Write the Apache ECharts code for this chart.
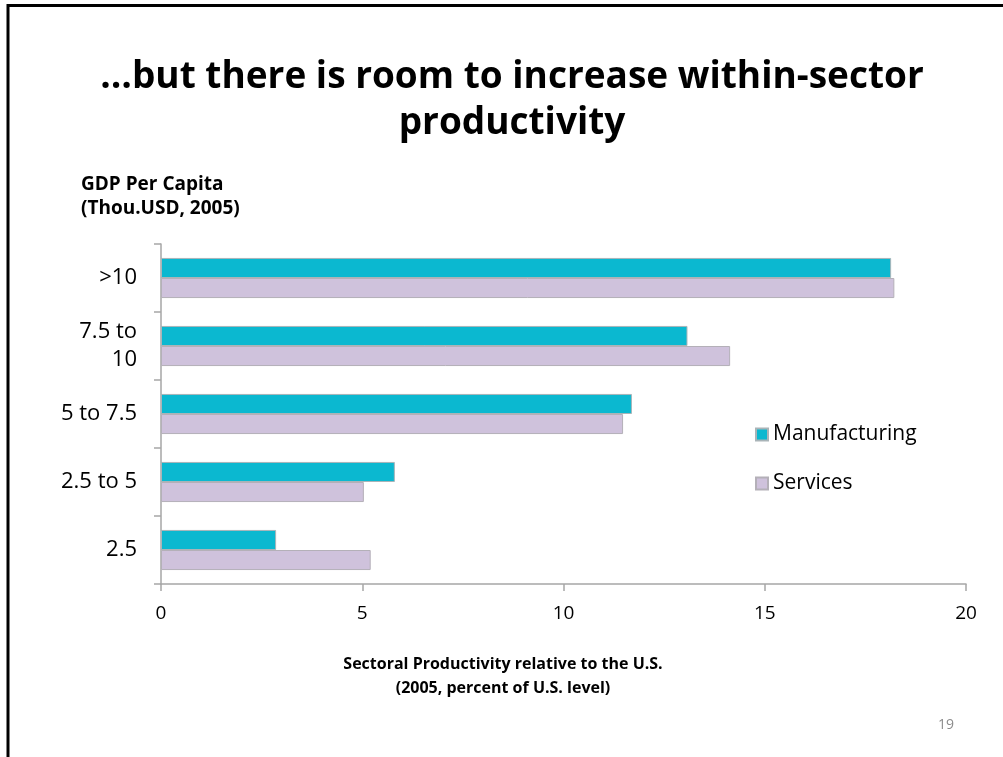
<!DOCTYPE html>
<html>
<head>
<meta charset="utf-8">
<script src="https://cdn.jsdelivr.net/npm/echarts@6/dist/echarts.min.js"></script>
<style>
  html, body { margin: 0; padding: 0; background: #fff; }
  #chart { width: 1003px; height: 757px; }
</style>
</head>
<body>
<div id="chart"></div>
<script>
// GDP per capita brackets, bottom to top
const categories = ['2.5', '2.5 to 5', '5 to 7.5', '7.5 to\n10', '>10'];
// Sectoral productivity relative to the U.S. (percent of U.S. level)
const manufacturing = [2.86, 5.81, 11.70, 13.08, 18.14];
const services = [5.21, 5.04, 11.48, 14.14, 18.22];
const xTicks = [0, 5, 10, 15, 20];

const FONT = '"Open Sans", "Noto Sans", sans-serif';
const chart = echarts.init(document.getElementById('chart'));

chart.setOption({
  backgroundColor: '#ffffff',
  animation: false,
  textStyle: { fontFamily: FONT },
  graphic: [
    // slide frame (top and left edges)
    { type: 'line', shape: { x1: 7, y1: 5.5, x2: 1003, y2: 5.5 }, style: { stroke: '#000', lineWidth: 3 } },
    { type: 'line', shape: { x1: 8, y1: 4, x2: 8, y2: 757 }, style: { stroke: '#000', lineWidth: 3 } },
    {
      type: 'text', x: 512, y: 54,
      style: {
        text: '…but there is room to increase within-sector\nproductivity',
        font: 'bold 37px ' + FONT, fill: '#000', align: 'center', lineHeight: 46
      }
    },
    {
      type: 'text', x: 81, y: 173,
      style: {
        text: 'GDP Per Capita\n(Thou.USD, 2005)',
        font: 'bold 19px ' + FONT, fill: '#000', lineHeight: 24
      }
    },
    {
      type: 'text', x: 503, y: 652,
      style: {
        text: 'Sectoral Productivity relative to the U.S.\n(2005, percent of U.S. level)',
        font: 'bold 16px ' + FONT, fill: '#000', align: 'center', lineHeight: 24
      }
    },
    {
      type: 'text', x: 946, y: 718,
      style: { text: '19', font: '14px ' + FONT, fill: '#8c8c8c', align: 'center' }
    }
  ],
  legend: {
    orient: 'vertical',
    left: 750, top: 419,
    itemWidth: 12, itemHeight: 12, itemGap: 28,
    icon: 'rect',
    data: ['Manufacturing', 'Services'],
    textStyle: { fontSize: 21, color: '#000', fontFamily: FONT }
  },
  grid: { left: 161, right: 37, top: 244, bottom: 173, containLabel: false },
  xAxis: {
    type: 'value', min: 0, max: 20, interval: 5,
    axisLine: { show: true, lineStyle: { color: '#a6a6a6', width: 1.5 } },
    axisTick: { show: true, length: 7, lineStyle: { color: '#a6a6a6', width: 1.5 } },
    splitLine: { show: false },
    axisLabel: {
      margin: 20, fontSize: 19, color: '#000',
      formatter: v => xTicks.includes(v) ? String(v) : ''
    }
  },
  yAxis: {
    type: 'category', data: categories,
    axisLine: { show: true, lineStyle: { color: '#a6a6a6', width: 1.5 } },
    axisTick: { show: true, length: 7, lineStyle: { color: '#a6a6a6', width: 1.5 } },
    axisLabel: { margin: 24, fontSize: 22, color: '#000', lineHeight: 28, align: 'right' }
  },
  series: [
    {
      name: 'Manufacturing', type: 'bar', data: manufacturing,
      barGap: '0%', barCategoryGap: '41%',
      itemStyle: { color: '#0bb8d0', borderColor: '#a9b4b8', borderWidth: 1 }
    },
    {
      name: 'Services', type: 'bar', data: services,
      itemStyle: { color: '#cfc2dc', borderColor: '#b4b0b8', borderWidth: 1 }
    }
  ]
});
</script>
</body>
</html>
